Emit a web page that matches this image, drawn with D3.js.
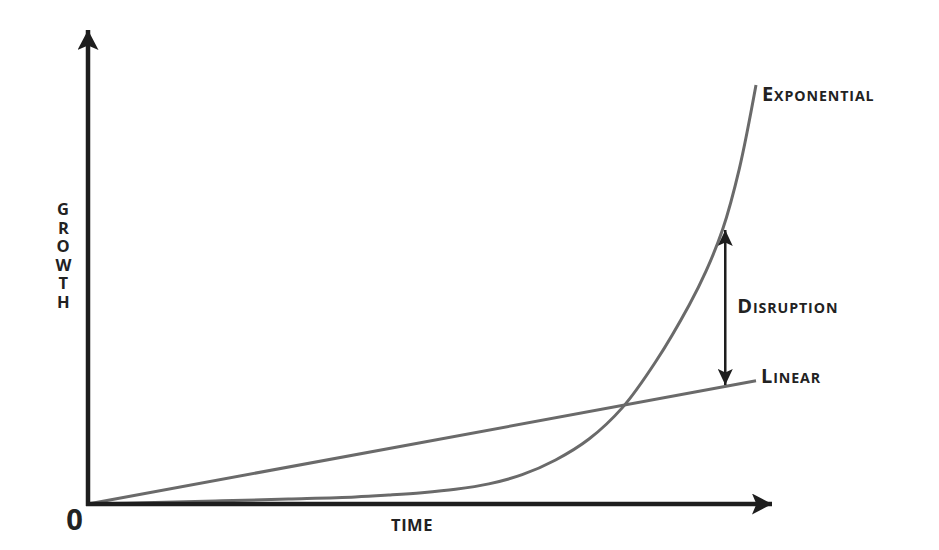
<!DOCTYPE html>
<html>
<head>
<meta charset="utf-8">
<script src="https://cdn.jsdelivr.net/npm/d3@7"></script>
<style>
  html, body { margin: 0; padding: 0; background: #fff; }
  svg { display: block; }
  text { font-family: "Open Sans", "DejaVu Sans", sans-serif; font-weight: 700; fill: #222; }
</style>
</head>
<body>
<svg id="chart" width="939" height="550"></svg>
<script>
// ---- Data ----
const expTime   = [0, 1, 2, 3, 4, 4.5, 5, 5.5, 6, 6.5, 7, 7.5, 8, 8.5, 9, 9.25, 9.5, 9.75, 10];
const expGrowth = [0, 0.35, 0.75, 1.2, 1.7, 2.15, 2.7, 3.5, 4.8, 7.0, 10.5, 15.5, 23, 34, 47.5, 55.5, 65.5, 80, 100];
const linTime   = [0, 10];
const linGrowth = [0, 29.4];
const disruptionTime = 9.54;
const disruptionRange = [28.4, 65.4];
const labels = { exponential: "Exponential", linear: "Linear", disruption: "Disruption", x: "TIME", y: "GROWTH", origin: "0" };

// ---- Layout ----
const svg = d3.select("#chart");
const x0 = 88, x1 = 756, y0 = 504, y1 = 85;
const x = d3.scaleLinear().domain([0, 10]).range([x0, x1]);
const y = d3.scaleLinear().domain([0, 100]).range([y0, y1]);

svg.append("rect").attr("width", 939).attr("height", 550).attr("fill", "#fff");

const defs = svg.append("defs");
function marker(id, w, h) {
  defs.append("marker").attr("id", id)
    .attr("viewBox", `0 0 ${w} ${h}`).attr("refX", w).attr("refY", h / 2)
    .attr("markerWidth", w).attr("markerHeight", h).attr("markerUnits", "userSpaceOnUse")
    .attr("orient", "auto-start-reverse")
    .append("path").attr("d", `M0,0 L${w},${h/2} L0,${h} L${w*0.22},${h/2} Z`).attr("fill", "#1e1e1e");
}
marker("axisArrow", 20, 21);
marker("smallArrow", 16, 15);

// ---- Curves ----
const line = d3.line().x(d => x(d[0])).y(d => y(d[1])).curve(d3.curveCatmullRom.alpha(0.5));
svg.append("path").datum(linTime.map((t, i) => [t, linGrowth[i]]))
  .attr("d", line).attr("fill", "none").attr("stroke", "#6a6a6a").attr("stroke-width", 3);
svg.append("path").datum(expTime.map((t, i) => [t, expGrowth[i]]))
  .attr("d", line).attr("fill", "none").attr("stroke", "#6a6a6a").attr("stroke-width", 3);

// ---- Axes ----
svg.append("line").attr("x1", x(0)).attr("x2", x(0)).attr("y1", y(0) + 2).attr("y2", 30)
  .attr("stroke", "#1e1e1e").attr("stroke-width", 4.5).attr("marker-end", "url(#axisArrow)");
svg.append("line").attr("x1", x(0) - 2).attr("x2", 772).attr("y1", y(0)).attr("y2", y(0))
  .attr("stroke", "#1e1e1e").attr("stroke-width", 4.5).attr("marker-end", "url(#axisArrow)");

// ---- Disruption arrow ----
svg.append("line")
  .attr("x1", x(disruptionTime)).attr("x2", x(disruptionTime))
  .attr("y1", y(disruptionRange[0])).attr("y2", y(disruptionRange[1]))
  .attr("stroke", "#1e1e1e").attr("stroke-width", 2.5)
  .attr("marker-start", "url(#smallArrow)").attr("marker-end", "url(#smallArrow)");

// ---- Labels (small caps) ----
function smallCaps(txt, px, py) {
  const t = svg.append("text").attr("x", px).attr("y", py).attr("letter-spacing", 0.9);
  t.append("tspan").attr("font-size", 20).text(txt[0].toUpperCase());
  t.append("tspan").attr("font-size", 14.2).text(txt.slice(1).toUpperCase());
  return t;
}
smallCaps(labels.exponential, x(10) + 6, y(100) + 16);
smallCaps(labels.linear, x(10) + 5, y(linGrowth[1]) + 2);
smallCaps(labels.disruption, x(disruptionTime) + 12, 313);

svg.append("text").attr("x", 412).attr("y", 531).attr("text-anchor", "middle")
  .attr("font-size", 16.5).attr("letter-spacing", 0.5).text(labels.x);

svg.append("text").attr("x", 63).attr("y", 197)
  .attr("font-size", 16.5)
  .style("writing-mode", "vertical-rl").style("text-orientation", "upright")
  .attr("letter-spacing", -4.5)
  .text(labels.y);

svg.append("text").attr("x", 74.5).attr("y", 530).attr("text-anchor", "middle")
  .attr("font-size", 29).text(labels.origin);
</script>
</body>
</html>
